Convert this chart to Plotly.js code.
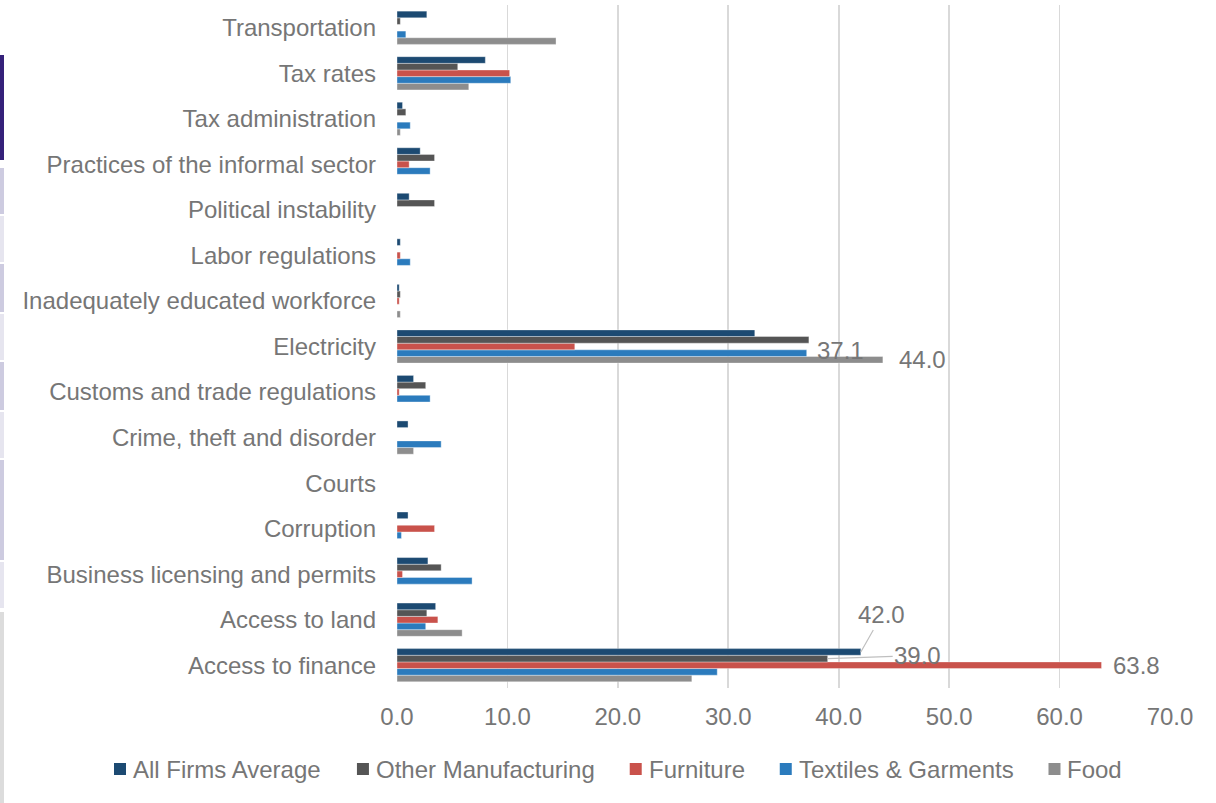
<!DOCTYPE html>
<html>
<head>
<meta charset="utf-8">
<script src="https://cdn.plot.ly/plotly-3.0.1.min.js"></script>
<style>
  html, body { margin: 0; padding: 0; background: #fff; }
  #chart { width: 1216px; height: 803px; position: relative; }
  .strip { position: absolute; left: 0; width: 4px; }
</style>
</head>
<body>
<div id="chart"></div>
<script>
// Categories listed bottom to top
const categories = [
  "Access to finance", "Access to land", "Business licensing and permits",
  "Corruption", "Courts", "Crime, theft and disorder",
  "Customs and trade regulations", "Electricity", "Inadequately educated workforce",
  "Labor regulations", "Political instability", "Practices of the informal sector",
  "Tax administration", "Tax rates", "Transportation"
];
const allFirms  = [42.0, 3.5, 2.8, 1.0, 0, 1.0, 1.5, 32.4, 0.2, 0.3, 1.1, 2.1, 0.5, 8.0, 2.7];
const otherMfg  = [39.0, 2.7, 4.0, 0, 0, 0, 2.6, 37.3, 0.3, 0, 3.4, 3.4, 0.8, 5.5, 0.3];
const furniture = [63.8, 3.7, 0.5, 3.4, 0, 0, 0.2, 16.1, 0.2, 0.3, 0, 1.1, 0, 10.2, 0];
const textiles  = [29.0, 2.6, 6.8, 0.4, 0, 4.0, 3.0, 37.1, 0, 1.2, 0, 3.0, 1.2, 10.3, 0.8];
const food      = [26.7, 5.9, 0, 0, 0, 1.5, 0, 44.0, 0.3, 0, 0, 0, 0.3, 6.5, 14.4];

const seriesNames = ["All Firms Average", "Other Manufacturing", "Furniture", "Textiles & Garments", "Food"];
const seriesData  = [allFirms, otherMfg, furniture, textiles, food];
const seriesColors = ["#1c4a72", "#555555", "#c9524b", "#2b7bbd", "#8d8d8d"];
const tickVals = [0, 10, 20, 30, 40, 50, 60, 70];

const textColor = "#767676";
const fontFamily = "Liberation Sans, Arial, sans-serif";
const fs = 24;

// plot geometry (pixels)
const W = 1216, H = 803;
const M = { l: 397, r: 46, t: 5, b: 115 };
const plotW = W - M.l - M.r, plotH = H - M.t - M.b;
const px2paperX = px => (px - M.l) / plotW;
const px2paperY = py => (H - M.b - py) / plotH;

// Plotly stacks grouped horizontal bars bottom-up, so add in reverse order
const traces = [];
for (let i = seriesNames.length - 1; i >= 0; i--) {
  traces.push({
    type: "bar",
    orientation: "h",
    name: seriesNames[i],
    y: categories,
    x: seriesData[i],
    marker: { color: seriesColors[i], line: { width: 0.8, color: "rgba(255,255,255,0.45)" } },
    hoverinfo: "x+name"
  });
}

// per-series vertical pixel offset in a group (index 0 = top bar)
const slot = 6.64;
const off = i => (2 - i) * slot;

function lbl(seriesIdx, catIdx, xshift, yextra) {
  const v = seriesData[seriesIdx][catIdx];
  return {
    x: v, y: categories[catIdx], xref: "x", yref: "y",
    text: v.toFixed(1), showarrow: false,
    xanchor: "left", yanchor: "middle",
    xshift: xshift, yshift: off(seriesIdx) + (yextra || 0),
    font: { family: fontFamily, size: fs, color: textColor }
  };
}

const annotations = [
  lbl(2, 0, 9),        // Furniture, Access to finance
  lbl(4, 7, 14),       // Food, Electricity
  lbl(3, 7, 8, 3),     // Textiles, Electricity
  {
    x: allFirms[0], y: categories[0], xref: "x", yref: "y",
    text: allFirms[0].toFixed(1), showarrow: true, arrowhead: 0, arrowwidth: 1.2,
    arrowcolor: "#bfbfbf", ax: 21, ay: -37, yshift: off(0),
    font: { family: fontFamily, size: fs, color: textColor }
  },
  {
    x: otherMfg[0], y: categories[0], xref: "x", yref: "y",
    text: otherMfg[0].toFixed(1), showarrow: true, arrowhead: 0, arrowwidth: 1.2,
    arrowcolor: "#bfbfbf", ax: 90, ay: -3, yshift: off(1),
    font: { family: fontFamily, size: fs, color: textColor }
  }
];

// custom legend laid out like the reference (square + tight text)
const shapes = [];
const ctx = document.createElement("canvas").getContext("2d");
ctx.font = fs + "px 'Liberation Sans'";
let lx = 114;
const legY = 769, sq = 12;
seriesNames.forEach((name, i) => {
  shapes.push({
    type: "rect", xref: "paper", yref: "paper",
    x0: px2paperX(lx), x1: px2paperX(lx + sq),
    y0: px2paperY(legY + sq / 2), y1: px2paperY(legY - sq / 2),
    fillcolor: seriesColors[i], line: { width: 0 }
  });
  const tx = lx + 17;
  annotations.push({
    x: px2paperX(tx), y: px2paperY(legY), xref: "paper", yref: "paper",
    xanchor: "left", yanchor: "middle", showarrow: false,
    text: name.replace("&", "&amp;"),
    font: { family: fontFamily, size: fs, color: textColor }
  });
  lx = tx + ctx.measureText(name).width + 37;
});

const layout = {
  width: W, height: H,
  margin: { l: M.l, r: M.r, t: M.t, b: M.b, pad: 0 },
  paper_bgcolor: "#ffffff", plot_bgcolor: "#ffffff",
  barmode: "group", bargap: 0.27, bargroupgap: 0,
  font: { family: fontFamily, size: fs, color: textColor },
  xaxis: {
    range: [0, 70], tickvals: tickVals, ticktext: tickVals.map(v => v.toFixed(1)),
    showgrid: true, gridcolor: "#d9d9d9", gridwidth: 1.6,
    zeroline: false, showline: false, ticks: "",
    ticklabelstandoff: 12,
    tickfont: { family: fontFamily, size: fs, color: textColor },
    fixedrange: true
  },
  yaxis: {
    type: "category", categoryorder: "array", categoryarray: categories,
    showgrid: false, zeroline: false, showline: false, ticks: "",
    ticklabelstandoff: 20,
    tickfont: { family: fontFamily, size: fs, color: textColor },
    fixedrange: true
  },
  showlegend: false,
  shapes: shapes,
  annotations: annotations
};

Plotly.newPlot("chart", traces, layout, { displayModeBar: false, staticPlot: true });

// decorative left-edge strip seen in the reference
const strips = [
  [55, 160, "#35217a"], [168, 214, "#cdcbe0"], [216, 262, "#e6e5ef"],
  [264, 312, "#cdcbe0"], [314, 360, "#e6e5ef"], [362, 410, "#cdcbe0"],
  [412, 458, "#e6e5ef"], [460, 560, "#cdcbe0"], [562, 608, "#e6e5ef"],
  [612, 803, "#dcdcdc"]
];
const chartDiv = document.getElementById("chart");
strips.forEach(s => {
  const d = document.createElement("div");
  d.className = "strip";
  d.style.top = s[0] + "px";
  d.style.height = (s[1] - s[0]) + "px";
  d.style.background = s[2];
  chartDiv.appendChild(d);
});
</script>
</body>
</html>
